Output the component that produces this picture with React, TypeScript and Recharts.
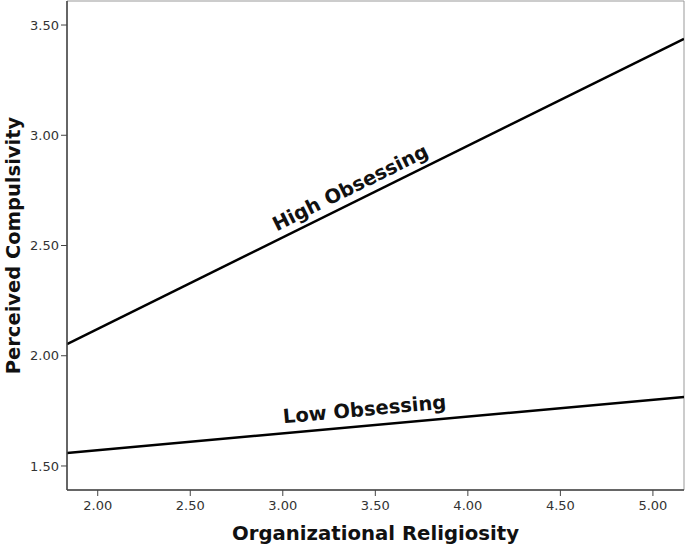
import { LineChart, Line, XAxis, YAxis, ReferenceArea, ReferenceDot } from 'recharts';

const religiosity = [1.834, 5.168];
const highObsessing = [2.053, 3.437];
const lowObsessing = [1.559, 1.813];
const xTicks = [2.0, 2.5, 3.0, 3.5, 4.0, 4.5, 5.0];
const yTicks = [1.5, 2.0, 2.5, 3.0, 3.5];

const data = religiosity.map((x, i) => ({ x, high: highObsessing[i], low: lowObsessing[i] }));

const FONT = '"DejaVu Sans", sans-serif';

const slopeLabel = (text: string, angle: number, dy: number) => (props: any) => {
  const { viewBox } = props;
  const cx = viewBox.x + (viewBox.width || 0) / 2;
  const cy = viewBox.y + (viewBox.height || 0) / 2;
  return (
    <text
      x={cx}
      y={cy}
      dy={dy}
      textAnchor="middle"
      transform={`rotate(${angle} ${cx} ${cy})`}
      fontFamily={FONT}
      fontWeight="bold"
      fontSize={19.5}
      fill="#111"
    >
      {text}
    </text>
  );
};

const YTitle = (props: any) => {
  const { viewBox } = props;
  const cx = 13;
  const cy = viewBox.y + viewBox.height / 2;
  return (
    <text
      x={cx}
      y={cy}
      textAnchor="middle"
      dominantBaseline="central"
      transform={`rotate(-90 ${cx} ${cy})`}
      fontFamily={FONT}
      fontWeight="bold"
      fontSize={19.5}
      fill="#111"
    >
      Perceived Compulsivity
    </text>
  );
};

const XTitle = (props: any) => {
  const { viewBox } = props;
  return (
    <text
      x={viewBox.x + viewBox.width / 2}
      y={533}
      textAnchor="middle"
      dominantBaseline="central"
      fontFamily={FONT}
      fontWeight="bold"
      fontSize={19.7}
      fill="#111"
    >
      Organizational Religiosity
    </text>
  );
};

const lineAt = (xs: number[], ys: number[], x: number) =>
  ys[0] + ((ys[1] - ys[0]) * (x - xs[0])) / (xs[1] - xs[0]);

export default function App() {
  const tick = { fontSize: 13, fill: '#333', fontFamily: FONT };
  return (
    <div style={{ position: 'absolute', left: 0, top: 0, background: '#fff' }}>
      <LineChart width={685} height={547} data={data} margin={{ top: 1, right: 1, bottom: 0, left: 0 }}>
        <ReferenceArea
          x1={religiosity[0]}
          x2={religiosity[1]}
          y1={1.391}
          y2={3.609}
          fill="none"
          stroke="#999"
          strokeWidth={1}
          ifOverflow="extendDomain"
        />
        <XAxis
          dataKey="x"
          type="number"
          domain={[religiosity[0], religiosity[1]]}
          ticks={xTicks}
          tickFormatter={(v: number) => v.toFixed(2)}
          tick={tick}
          tickSize={6}
          tickMargin={5}
          tickLine={{ stroke: '#444' }}
          axisLine={{ stroke: '#444', strokeWidth: 1.5 }}
          height={57}
          allowDataOverflow
          label={<XTitle />}
        />
        <YAxis
          type="number"
          domain={[1.391, 3.609]}
          ticks={yTicks}
          tickFormatter={(v: number) => v.toFixed(2)}
          tick={tick}
          tickSize={6}
          tickMargin={2}
          tickLine={{ stroke: '#444' }}
          axisLine={{ stroke: '#444', strokeWidth: 1.5 }}
          width={67}
          allowDataOverflow
          label={<YTitle />}
        />
        <Line dataKey="high" stroke="#000" strokeWidth={2.5} dot={false} isAnimationActive={false} />
        <Line dataKey="low" stroke="#000" strokeWidth={2.5} dot={false} isAnimationActive={false} />
        <ReferenceDot
          x={3.4}
          y={lineAt(religiosity, highObsessing, 3.4)}
          r={0}
          stroke="none"
          label={slopeLabel('High Obsessing', -26.3, -8)}
        />
        <ReferenceDot
          x={3.45}
          y={lineAt(religiosity, lowObsessing, 3.45)}
          r={0}
          stroke="none"
          label={slopeLabel('Low Obsessing', -5.2, -10)}
        />
      </LineChart>
    </div>
  );
}
